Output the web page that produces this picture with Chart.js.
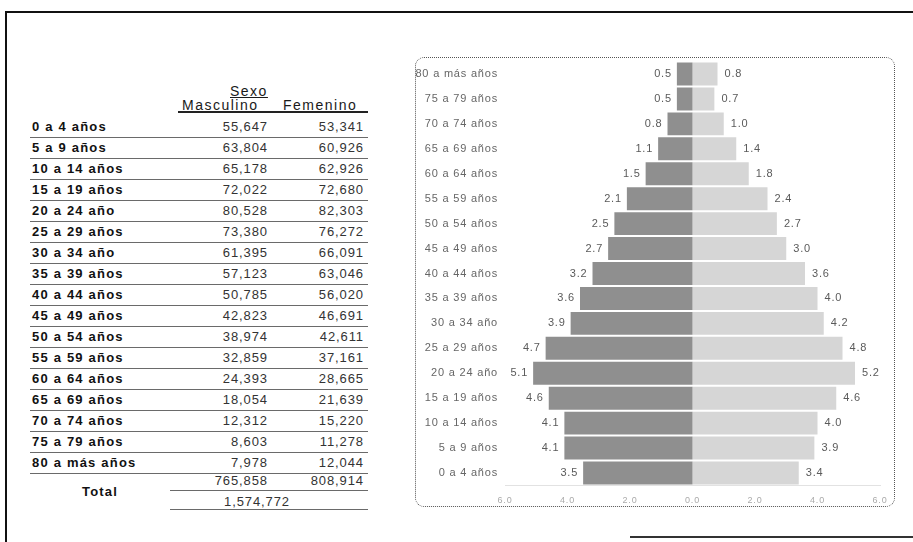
<!DOCTYPE html>
<html><head><meta charset="utf-8">
<script src="https://cdn.jsdelivr.net/npm/chart.js@4/dist/chart.umd.min.js"></script>
<style>
html,body{margin:0;padding:0;background:#fff;}
body{width:913px;height:542px;position:relative;overflow:hidden;font-family:"Liberation Sans",Arial,sans-serif;color:#222;}
.a{position:absolute;white-space:nowrap;line-height:16px;}
.lbl{font-weight:bold;font-size:13px;letter-spacing:1.2px;color:#111;}
.val{font-size:13px;letter-spacing:0.9px;color:#333;text-align:right;width:90px;}
.hd{font-size:14px;letter-spacing:1.5px;color:#1a1a1a;}
.ln{position:absolute;height:0;border-top:1px solid #6a6a6a;}
#box{position:absolute;left:415px;top:57px;width:478px;height:448px;border:1px dotted #555;border-radius:9px;}
#c{position:absolute;left:416px;top:58px;}
</style></head>
<body>
<div style="position:absolute;left:5px;top:11px;width:908px;height:0;border-top:2px solid #111;"></div>
<div style="position:absolute;left:5px;top:11px;width:0;height:531px;border-left:2px solid #111;"></div>
<div style="position:absolute;left:630px;top:536px;width:283px;height:0;border-top:2px solid #333;"></div>
<div id="tbl"></div>
<div id="box"></div>
<canvas id="c" width="478" height="448"></canvas>
<script>
// ---- data ----
const categories = ["0 a 4 años","5 a 9 años","10 a 14 años","15 a 19 años","20 a 24 año","25 a 29 años","30 a 34 año","35 a 39 años","40 a 44 años","45 a 49 años","50 a 54 años","55 a 59 años","60 a 64 años","65 a 69 años","70 a 74 años","75 a 79 años","80 a más años"];
const maleCounts = [55647,63804,65178,72022,80528,73380,61395,57123,50785,42823,38974,32859,24393,18054,12312,8603,7978];
const femaleCounts = [53341,60926,62926,72680,82303,76272,66091,63046,56020,46691,42611,37161,28665,21639,15220,11278,12044];
const totalMale = 765858;
const totalFemale = 808914;
const totalAll = 1574772;
const malePct = [3.5,4.1,4.1,4.6,5.1,4.7,3.9,3.6,3.2,2.7,2.5,2.1,1.5,1.1,0.8,0.5,0.5];
const femalePct = [3.4,3.9,4.0,4.6,5.2,4.8,4.2,4.0,3.6,3.0,2.7,2.4,1.8,1.4,1.0,0.7,0.8];
const xTicks = [-6,-4,-2,0,2,4,6];

// ---- table ----
const fmt = n => n.toLocaleString('en-US');
const tbl = document.getElementById('tbl');
let h = '';
h += `<div class="a hd" style="left:230px;top:83px;text-decoration:underline;">Sexo</div>`;
h += `<div class="a hd" style="left:182px;top:97px;">Masculino</div>`;
h += `<div class="a hd" style="left:283px;top:97px;">Femenino</div>`;
h += `<div class="ln" style="left:178px;top:111px;width:190px;border-top:2px solid #222;"></div>`;
categories.forEach((c,i)=>{
  const cy = 127 + 21*i;
  h += `<div class="a lbl" style="left:32px;top:${cy-8}px;">${c}</div>`;
  h += `<div class="a val" style="left:178px;top:${cy-8}px;">${fmt(maleCounts[i])}</div>`;
  h += `<div class="a val" style="left:274px;top:${cy-8}px;">${fmt(femaleCounts[i])}</div>`;
  h += `<div class="ln" style="left:30px;top:${cy+10}px;width:338px;"></div>`;
});
h += `<div class="a lbl" style="left:82px;top:484px;">Total</div>`;
h += `<div class="a val" style="left:178px;top:473px;">${fmt(totalMale)}</div>`;
h += `<div class="a val" style="left:274px;top:473px;">${fmt(totalFemale)}</div>`;
h += `<div class="ln" style="left:170px;top:490px;width:198px;"></div>`;
h += `<div class="a val" style="left:167px;top:494px;width:180px;text-align:center;">${fmt(totalAll)}</div>`;
h += `<div class="ln" style="left:170px;top:509px;width:198px;"></div>`;
tbl.innerHTML = h;

// ---- chart ----
const FONT = '"Liberation Sans", Arial, sans-serif';
const spacing = {id:'spacing', beforeDraw(chart){ chart.ctx.letterSpacing='0.8px'; }};
const valueLabels = {
  id:'valueLabels',
  afterDatasetsDraw(chart){
    const ctx = chart.ctx;
    ctx.save();
    ctx.font = '11px ' + FONT;
    ctx.fillStyle = '#5a5a5a';
    ctx.textBaseline = 'middle';
    chart.data.datasets.forEach((ds, di) => {
      const meta = chart.getDatasetMeta(di);
      meta.data.forEach((bar, i) => {
        const v = Math.abs(ds.data[i]).toFixed(1);
        if (ds.data[i] < 0) { ctx.textAlign='right'; ctx.fillText(v, bar.x - 5, bar.y); }
        else { ctx.textAlign='left'; ctx.fillText(v, bar.x + 7, bar.y); }
      });
    });
    ctx.restore();
  }
};
const noPad = s => { s.paddingTop = 0; s.paddingBottom = 0; s.paddingLeft = 0; s.paddingRight = 0; };
new Chart(document.getElementById('c'), {
  type:'bar',
  data:{
    labels:categories,
    datasets:[
      {label:'Masculino', data:malePct.map(v=>-v), backgroundColor:'#8f8f8f', barPercentage:0.92, categoryPercentage:1},
      {label:'Femenino', data:femalePct, backgroundColor:'#d6d6d6', barPercentage:0.92, categoryPercentage:1}
    ]
  },
  options:{
    indexAxis:'y',
    responsive:false,
    animation:false,
    layout:{padding:{left:0,right:14,top:3.5,bottom:0}},
    plugins:{legend:{display:false}, tooltip:{enabled:false}},
    scales:{
      x:{
        stacked:true, min:-6, max:6,
        afterBuildTicks: s => { s.ticks = xTicks.map(v=>({value:v})); },
        afterFit: s => { s.height = 20.5; noPad(s); },
        grid:{display:false, drawTicks:false},
        border:{display:true, color:'#e2e2e2'},
        ticks:{padding:10, color:'#aaa', font:{family:FONT, size:9}, callback:v=>Math.abs(v).toFixed(1), maxRotation:0, autoSkip:false}
      },
      y:{
        stacked:true, reverse:true,
        afterFit: s => { s.width = 89; noPad(s); },
        grid:{display:false, drawTicks:false},
        border:{display:false},
        ticks:{padding:7, color:'#666', font:{family:FONT, size:11}, autoSkip:false}
      }
    }
  },
  plugins:[spacing, valueLabels]
});
</script>
</body></html>
